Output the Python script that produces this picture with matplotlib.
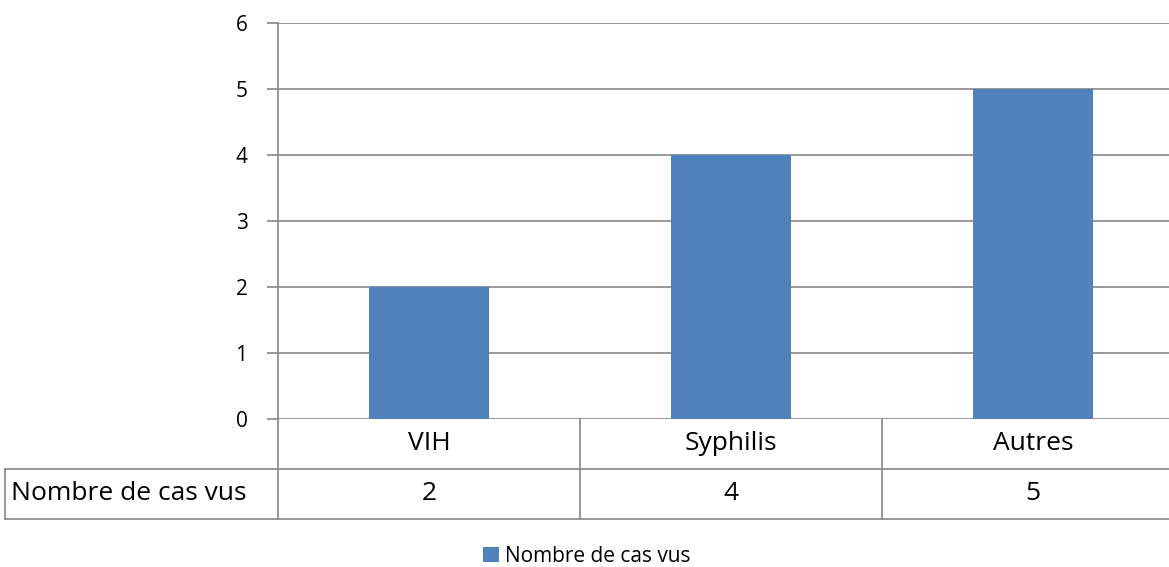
import matplotlib.pyplot as plt
import matplotlib.transforms as mtransforms

# data
categories = ['VIH', 'Syphilis', 'Autres']
values = [2, 4, 5]
series_name = 'Nombre de cas vus'

plt.rcParams['font.family'] = ['Open Sans', 'DejaVu Sans']

bar_color = '#4F81BD'
line_color = '#868686'

fig = plt.figure(figsize=(11.69, 5.67), dpi=100)
# axes extends a bit past the right edge, like the cropped original
ax = fig.add_axes([278 / 1169, 1 - 419 / 567, 906 / 1169, 396 / 567])

x = list(range(len(categories)))
ax.bar(x, values, width=0.4, color=bar_color, label=series_name, zorder=3)

ax.set_xlim(-0.5, len(categories) - 0.5)
ax.set_ylim(0, 6)
ax.set_yticks(range(0, 7))
ax.set_xticks([])
ax.grid(axis='y', color=line_color, linewidth=1.2, zorder=0)
ax.tick_params(axis='y', length=8, width=1.2, color=line_color, pad=14, labelsize=15)
for s in ['top', 'right', 'bottom']:
    ax.spines[s].set_visible(False)
ax.spines['left'].set_color(line_color)
ax.spines['left'].set_linewidth(1.2)

# data table under the chart
row1 = -50 / 396
row2 = -100 / 396
head_left = (5 - 278) / 906
kw = dict(color=line_color, linewidth=1.2, clip_on=False, transform=ax.transAxes)
ax.plot([head_left, 1], [row1, row1], **kw)
ax.plot([head_left, 1], [row2, row2], **kw)
ax.plot([head_left, head_left], [row1, row2], **kw)
for i in range(len(categories)):
    xv = i / len(categories)
    ax.plot([xv, xv], [0, row2], **kw)

trans = mtransforms.blended_transform_factory(ax.transData, ax.transAxes)
for xi, cat, v in zip(x, categories, values):
    ax.text(xi, row1 / 2, cat, ha='center', va='center', fontsize=19, transform=trans)
    ax.text(xi, (row1 + row2) / 2, str(v), ha='center', va='center', fontsize=19, transform=trans)
ax.text(head_left + 6 / 906, (row1 + row2) / 2, series_name, ha='left', va='center',
        fontsize=19, transform=ax.transAxes)

fig.legend(loc='center', bbox_to_anchor=(587 / 1169, 1 - 556 / 567), frameon=False,
           fontsize=15, handlelength=0.75, handleheight=0.75, handletextpad=0.3)

fig.savefig('out.png', dpi=100)
